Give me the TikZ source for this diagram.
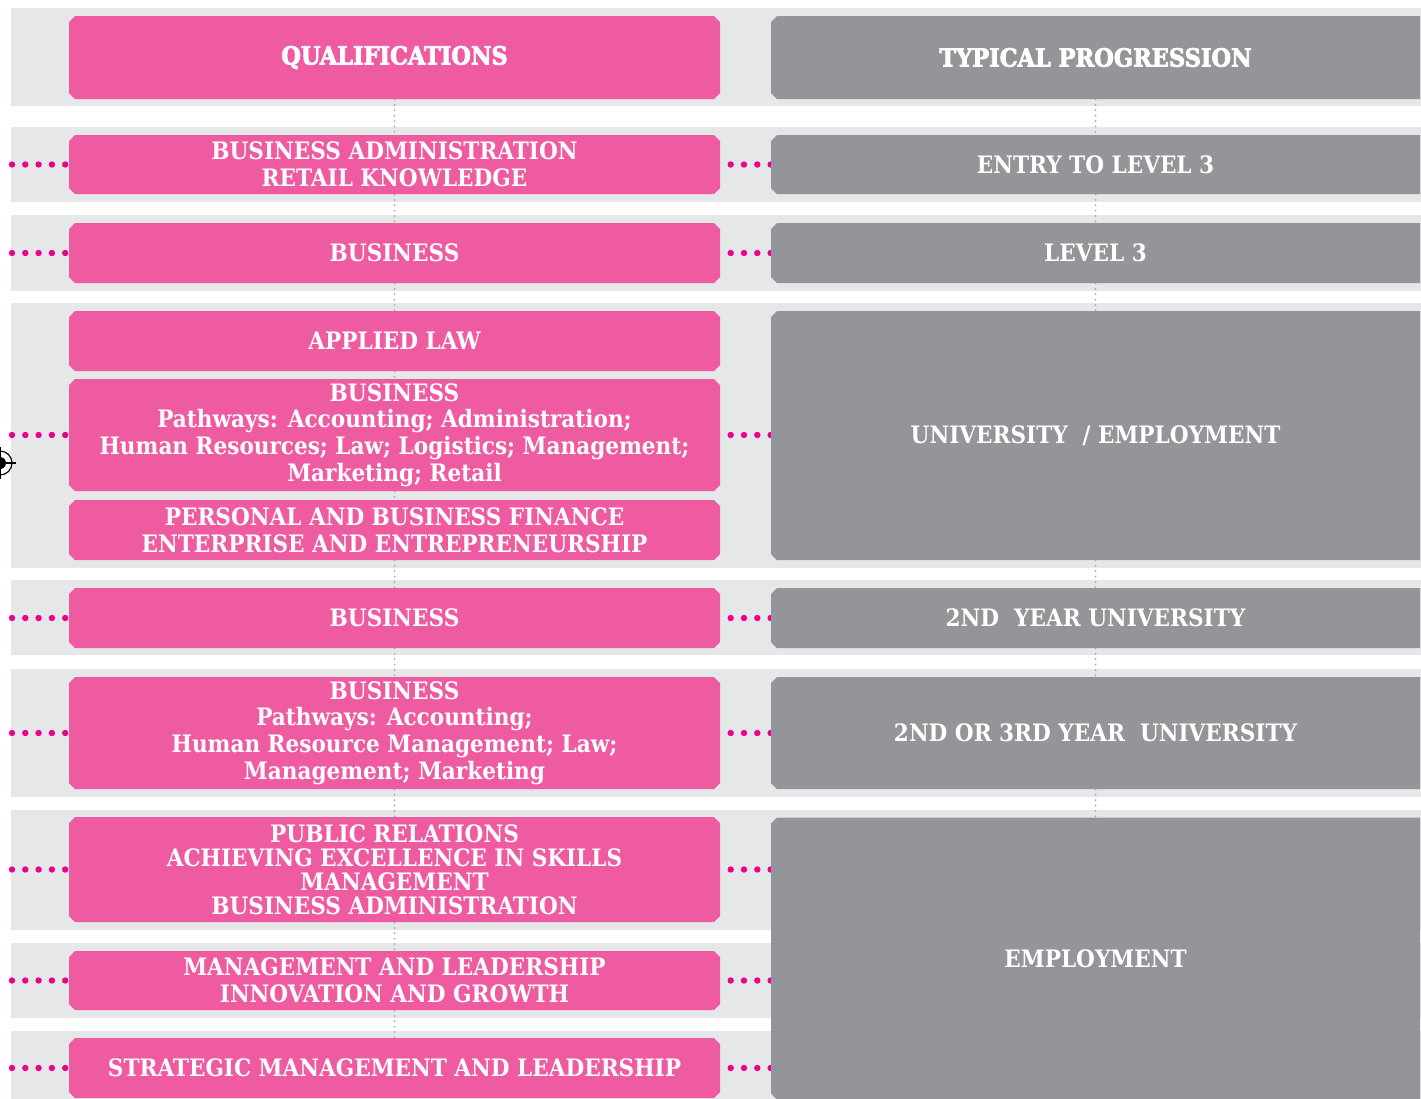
\documentclass[tikz,border=0pt]{standalone}
\usepackage{fontspec}
\setmainfont{DejaVu Serif Condensed}
\newfontfamily\headfont[FakeBold=3]{DejaVu Serif Condensed Bold}
\usetikzlibrary{shapes.misc,backgrounds}
\definecolor{qpink}{HTML}{EF5BA1}
\definecolor{pgrey}{HTML}{939598}
\definecolor{bandgrey}{HTML}{E6E7E8}
\definecolor{dotpink}{HTML}{EC008C}
\definecolor{dotgrey}{HTML}{A7A9AC}
\tikzset{
qualbox/.style={
	chamfered rectangle, chamfered rectangle xsep=1.5pt, chamfered rectangle ysep=1.5pt,
	fill=qpink, text=white, align=center, inner sep=0pt, minimum width=325.5pt,
	font=\bfseries\fontsize{12}{13.3}\selectfont},
progbox/.style={qualbox, fill=pgrey,
	chamfered rectangle corners={north west,south west}, minimum width=324.5pt},
headbox/.style={font=\headfont\fontsize{12.5}{14}\selectfont},
band/.style={fill=bandgrey},
pinkdots/.style={dotpink, line width=3.2pt, line cap=round,
	dash pattern=on 0pt off 6.65pt},
greydots/.style={dotgrey, line width=1pt, line cap=round,
	dash pattern=on 0pt off 2.7pt}
}

\begin{document}
\begin{tikzpicture}[x=0.5pt, y=-0.5pt]
	\useasboundingbox (0,0) rectangle (1421,1099);
	\coordinate (lm) at (12,0);
	% qualifications
	\node[qualbox, headbox, minimum height=41.5pt] (qhead) at (394.5,57.5) {QUALIFICATIONS};
	\node[qualbox, minimum height=29.5pt] (q1) at (394.5,164.5) {BUSINESS ADMINISTRATION\\RETAIL KNOWLEDGE};
	\node[qualbox, minimum height=30pt] (q2) at (394.5,253) {BUSINESS};
	\node[qualbox, minimum height=30pt] (q3a) at (394.5,341) {APPLIED LAW};
	\node[qualbox, minimum height=56pt] (q3b) at (394.5,435) {BUSINESS\\Pathways: Accounting; Administration;\\Human Resources; Law; Logistics; Management;\\Marketing; Retail};
	\node[qualbox, minimum height=30pt] (q3c) at (394.5,530) {PERSONAL AND BUSINESS FINANCE\\ENTERPRISE AND ENTREPRENEURSHIP};
	\node[qualbox, minimum height=30pt] (q4) at (394.5,618) {BUSINESS};
	\node[qualbox, minimum height=56pt] (q5) at (394.5,733) {BUSINESS\\Pathways: Accounting;\\Human Resource Management; Law;\\Management; Marketing};
	\node[qualbox, minimum height=52.5pt, font=\bfseries\fontsize{12}{12}\selectfont] (q6) at (394.5,869.5) {PUBLIC RELATIONS\\ACHIEVING EXCELLENCE IN SKILLS\\MANAGEMENT\\BUSINESS ADMINISTRATION};
	\node[qualbox, minimum height=29.5pt] (q7) at (394.5,980.5) {MANAGEMENT AND LEADERSHIP\\INNOVATION AND GROWTH};
	\node[qualbox, minimum height=30pt] (q8) at (394.5,1068) {STRATEGIC MANAGEMENT AND LEADERSHIP};
	% progression
	\node[progbox, headbox, minimum height=41.5pt] (phead) at (1095.5,57.5) {TYPICAL PROGRESSION};
	\node[progbox, minimum height=29.5pt] (p1) at (1095.5,164.5) {ENTRY TO LEVEL 3};
	\node[progbox, minimum height=30pt] (p2) at (1095.5,253) {LEVEL 3};
	\node[progbox, minimum height=124.5pt] (p3) at (1095.5,435.5) {UNIVERSITY\ \ / EMPLOYMENT};
	\node[progbox, minimum height=30pt] (p4) at (1095.5,618) {2ND\ \ YEAR UNIVERSITY};
	\node[progbox, minimum height=56pt] (p5) at (1095.5,733) {2ND OR 3RD YEAR\ \ UNIVERSITY};
	\node[progbox, minimum height=141pt] (p6) at (1095.5,958.5) {EMPLOYMENT};

	\begin{pgfonlayer}{background}
		\fill[white] (0,0) rectangle (1421,1099);
		\foreach \ya/\yb in {8/106, 127/202, 215/291, 303/568, 580/655, 669/797, 810/930, 943/1018, 1031/1099}
			\fill[band] (11,\ya) rectangle (1421,\yb);
		\foreach \a/\b in {qhead/q1, q1/q2, q2/q3a, q3a/q3b, q3b/q3c, q3c/q4, q4/q5, q5/q6, q6/q7, q7/q8,
			phead/p1, p1/p2, p2/p3, p3/p4, p4/p5, p5/p6}
			\draw[greydots] (\a.south) -- (\b.north);
		\foreach \q in {q1, q2, q3b, q4, q5, q6, q7, q8}
			\draw[pinkdots] (lm |- \q.west) -- (\q.west);
		\foreach \q/\p in {q1/p1, q2/p2, q3b/p3, q4/p4, q5/p5}
			\draw[pinkdots] (\p.west |- \q.east) -- (\q.east);
		\foreach \q in {q6, q7, q8}
			\draw[pinkdots] (p6.west |- \q.east) -- (\q.east);
	\end{pgfonlayer}

	\draw[line width=0.6pt] (0,463) circle (12);
	\fill (0,463) circle (6);
	\draw[line width=0.6pt] (-16,463) -- (16,463) (0,447) -- (0,479);
\end{tikzpicture}
\end{document}
